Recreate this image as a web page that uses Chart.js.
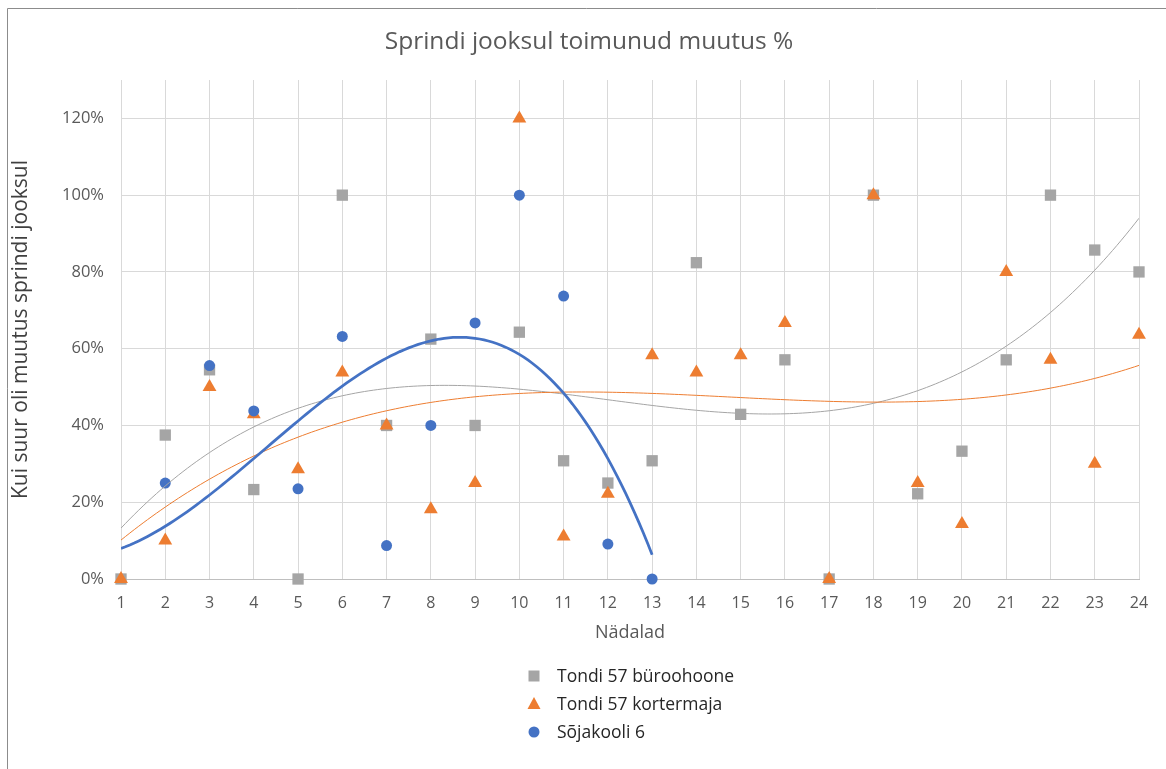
<!DOCTYPE html>
<html lang="et">
<head>
    <meta charset="UTF-8">
    <title>Sprindi jooksul toimunud muutus %</title>
    <script src="https://cdn.jsdelivr.net/npm/chart.js@4"></script>
    <style>
        * { margin: 0; padding: 0; box-sizing: border-box; }
        body { background: #fff; width: 1166px; height: 769px; overflow: hidden; }
        #wrap { position: relative; width: 1166px; height: 769px; }
    </style>
</head>
<body>
<div id="wrap"><canvas id="chart" width="1166" height="769"></canvas></div>
<script>
    // andmed (protsentides)
    const weeks = [1, 2, 3, 4, 5, 6, 7, 8, 9, 10, 11, 12, 13, 14, 15, 16, 17, 18, 19, 20, 21, 22, 23, 24];
    const buroohoone = [0, 37.5, 54.5, 23.3, 0, 100, 40, 62.5, 40, 64.3, 30.8, 25, 30.8, 82.4, 42.9, 57.1, 0, 100, 22.2, 33.3, 57.1, 100, 85.7, 80];
    const kortermaja = [0, 10, 50, 42.9, 28.6, 53.8, 40, 18.2, 25, 120, 11.1, 22.2, 58.3, 53.8, 58.3, 66.7, 0, 100, 25, 14.3, 80, 57.1, 30, 63.6];
    // 1. nädala väärtus jääb alla 0% ja pole teljel näha (hinnatud trendijoone järgi)
    const sojakool = [-16, 25, 55.6, 43.8, 23.5, 63.2, 8.7, 40, 66.7, 100, 73.7, 9.1, 0];
    const seriesNames = ['Tondi 57 büroohoone', 'Tondi 57 kortermaja', 'Sõjakooli 6'];
    const colors = ['#a5a5a5', '#ed7d31', '#4472c4'];

    const FONT = "'Open Sans'";
    const toPoints = (ys) => ys.map((y, i) => ({ x: weeks[i], y: y }));

    // polünoomne trendijoon (vähimruutude meetod), nagu Excelis
    function polyfit(pts, deg) {
        const n = deg + 1;
        const A = [];
        for (let i = 0; i < n; i++) A.push(new Array(n + 1).fill(0));
        pts.forEach(p => {
            for (let i = 0; i < n; i++) {
                for (let j = 0; j < n; j++) A[i][j] += Math.pow(p.x, i + j);
                A[i][n] += p.y * Math.pow(p.x, i);
            }
        });
        for (let c = 0; c < n; c++) {
            let piv = c;
            for (let r = c + 1; r < n; r++) if (Math.abs(A[r][c]) > Math.abs(A[piv][c])) piv = r;
            [A[c], A[piv]] = [A[piv], A[c]];
            for (let r = 0; r < n; r++) {
                if (r === c) continue;
                const f = A[r][c] / A[c][c];
                for (let k = c; k <= n; k++) A[r][k] -= f * A[c][k];
            }
        }
        return A.map((row, i) => row[n] / row[i]);
    }
    function trend(pts, deg, x0, x1) {
        const co = polyfit(pts, deg);
        const out = [];
        for (let x = x0; x <= x1 + 1e-9; x += 0.1) {
            out.push({ x: x, y: co.reduce((s, c, i) => s + c * Math.pow(x, i), 0) });
        }
        return out;
    }

    const ptsB = toPoints(buroohoone);
    const ptsK = toPoints(kortermaja);
    const ptsS = toPoints(sojakool);

    const decorPlugin = {
        id: 'decor',
        afterDraw(chart) {
            const ctx = chart.ctx;
            ctx.save();
            // raam
            ctx.strokeStyle = '#8c8c8c';
            ctx.lineWidth = 1;
            ctx.beginPath();
            ctx.moveTo(7.5, 769);
            ctx.lineTo(7.5, 8.5);
            ctx.lineTo(1166, 8.5);
            ctx.stroke();
            // pealkiri
            ctx.fillStyle = '#595959';
            ctx.font = '24.5px ' + FONT;
            ctx.textAlign = 'center';
            ctx.textBaseline = 'middle';
            ctx.fillText('Sprindi jooksul toimunud muutus %', 589, 42);
            // legend
            ctx.font = '17.5px ' + FONT;
            ctx.textAlign = 'left';
            const mx = 534, tx = 557;
            const rows = [676, 704, 732];
            rows.forEach((y, i) => {
                ctx.fillStyle = colors[i];
                ctx.beginPath();
                if (i === 0) {
                    ctx.rect(mx - 5.5, y - 5.5, 11, 11);
                } else if (i === 1) {
                    ctx.moveTo(mx, y - 7);
                    ctx.lineTo(mx + 6.5, y + 5);
                    ctx.lineTo(mx - 6.5, y + 5);
                    ctx.closePath();
                } else {
                    ctx.arc(mx, y, 5.5, 0, Math.PI * 2);
                }
                ctx.fill();
                ctx.fillStyle = '#262626';
                ctx.fillText(seriesNames[i], tx, y + 1);
            });
            ctx.restore();
        }
    };

    const trendLine = (data, color, width, order) => ({
        type: 'line',
        data: data,
        borderColor: color,
        borderWidth: width,
        pointRadius: 0,
        fill: false,
        tension: 0,
        order: order
    });
    const markers = (label, data, color, style, r, order) => ({
        type: 'scatter',
        label: label,
        data: data,
        backgroundColor: color,
        borderColor: color,
        borderWidth: 0,
        pointStyle: style,
        pointRadius: r,
        pointHoverRadius: r,
        clip: { left: 12, right: 12, top: 12, bottom: 12 },
        order: order
    });

    new Chart(document.getElementById('chart'), {
        type: 'scatter',
        data: {
            datasets: [
                trendLine(trend(ptsS, 3, 1, 13), colors[2], 2.75, 0),
                trendLine(trend(ptsK, 3, 1, 24), colors[1], 1, 1),
                trendLine(trend(ptsB, 3, 1, 24), colors[0], 1, 2),
                markers(seriesNames[2], ptsS, colors[2], 'circle', 5.5, 3),
                markers(seriesNames[1], ptsK, colors[1], 'triangle', 8, 4),
                markers(seriesNames[0], ptsB, colors[0], 'rect', 8, 5)
            ]
        },
        options: {
            responsive: false,
            animation: false,
            layout: { padding: { left: 8, right: 27, top: 80, bottom: 121 } },
            plugins: {
                legend: { display: false },
                title: { display: false },
                tooltip: { enabled: false }
            },
            scales: {
                x: {
                    type: 'linear',
                    min: 1,
                    max: 24,
                    afterFit: (s) => { s.height = 69; },
                    ticks: {
                        stepSize: 1,
                        padding: 15,
                        color: '#595959',
                        font: { family: FONT, size: 16 }
                    },
                    grid: { color: '#d9d9d9', lineWidth: 1, drawTicks: false },
                    border: { color: '#bfbfbf', width: 1 },
                    title: {
                        display: true,
                        text: 'Nädalad',
                        color: '#595959',
                        font: { family: FONT, size: 18 },
                        padding: { top: 0, bottom: 4 }
                    }
                },
                y: {
                    min: 0,
                    max: 130,
                    afterFit: (s) => { s.width = 113; },
                    ticks: {
                        stepSize: 20,
                        includeBounds: false,
                        padding: 17,
                        color: '#595959',
                        font: { family: FONT, size: 16.5 },
                        callback: (v) => v + '%'
                    },
                    grid: { color: '#d9d9d9', lineWidth: 1, drawTicks: false },
                    border: { display: false },
                    title: {
                        display: true,
                        text: 'Kui suur oli muutus sprindi jooksul',
                        color: '#404040',
                        font: { family: FONT, size: 21 },
                        padding: { top: 0, bottom: 0 }
                    }
                }
            }
        },
        plugins: [decorPlugin]
    });
</script>
</body>
</html>
